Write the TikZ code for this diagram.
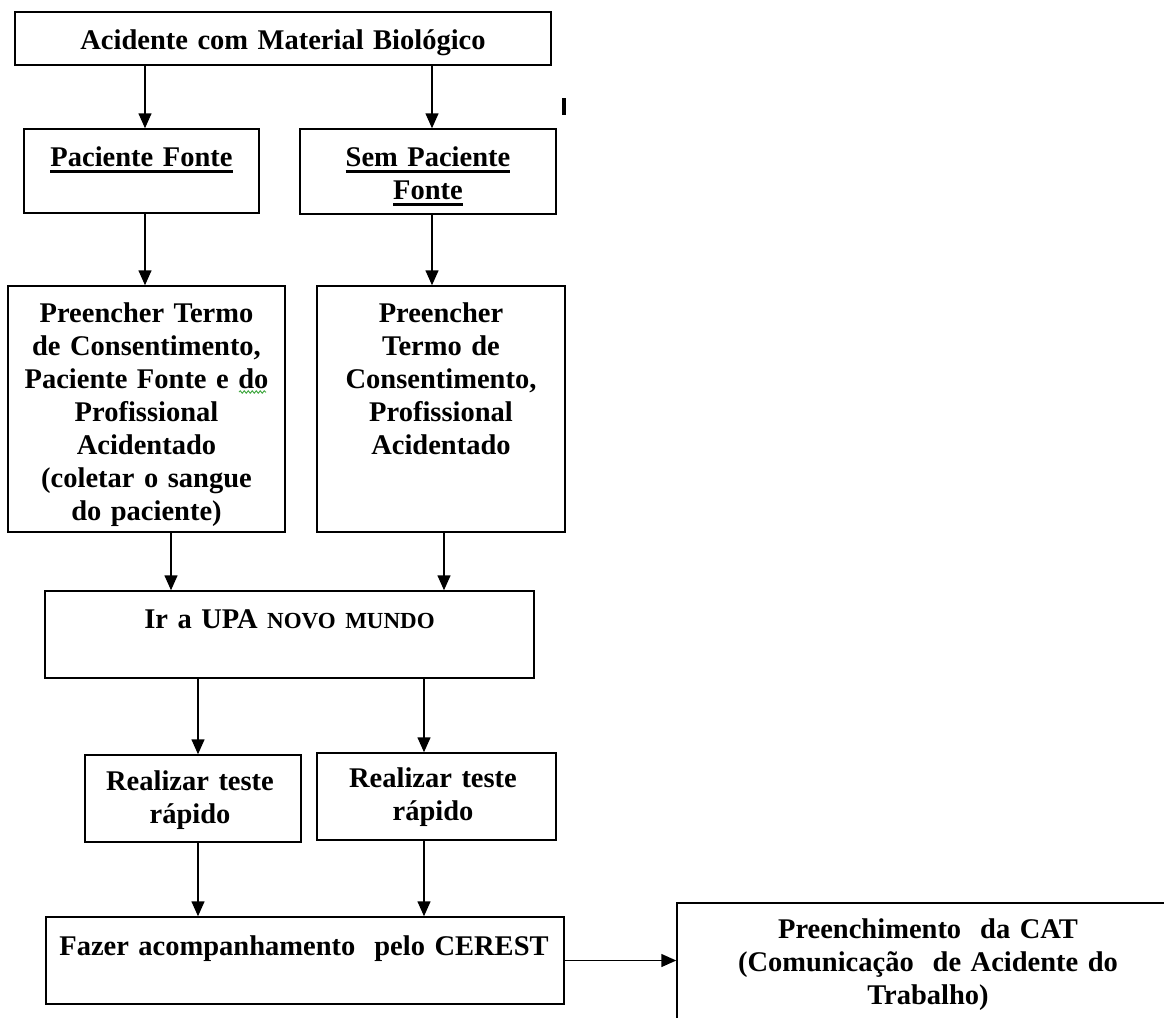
\documentclass[tikz,border=0pt]{standalone}
\usepackage{fontspec}
\setmainfont{Liberation Serif}
\usetikzlibrary{arrows.meta,decorations.pathmorphing}
\definecolor{wordgreen}{RGB}{70,170,70}
\newsavebox\ulbox
\newcommand\myul[1]{\leavevmode\sbox\ulbox{#1}\rlap{\rule[-7pt]{\wd\ulbox}{3pt}}\usebox\ulbox}
\begin{document}
\begin{tikzpicture}[x=1pt,y=-1pt,
  box/.style={draw=black,line width=1.5pt,inner sep=0pt},
  txt/.style={inner sep=0pt,anchor=base,align=center,text width=520pt,
    font=\fontsize{28.5}{33}\selectfont\bfseries},
  arr/.style={line width=1.5pt,-{Triangle[width=13pt,length=15pt]}}]
\clip (0,0) rectangle (1164,1017);
\fill[white] (0,0) rectangle (1164,1017);

% boxes
\node[box,minimum width=536pt,minimum height=53pt] (top) at (283,38.5) {};
\node[box,minimum width=235pt,minimum height=84pt] (pac) at (141.5,171) {};
\node[box,minimum width=256pt,minimum height=85pt] (sem) at (428,171.5) {};
\node[box,minimum width=277pt,minimum height=246pt] (lbig) at (146.5,409) {};
\node[box,minimum width=248pt,minimum height=246pt] (rbig) at (441,409) {};
\node[box,minimum width=489pt,minimum height=87pt] (upa) at (289.5,634.5) {};
\node[box,minimum width=216pt,minimum height=87pt] (rl) at (193,798.5) {};
\node[box,minimum width=239pt,minimum height=87pt] (rr) at (436.5,796.5) {};
\node[box,minimum width=518pt,minimum height=87pt] (fazer) at (305,960.5) {};
\node[box,minimum width=502pt,minimum height=157pt] (cat) at (928,981.5) {};

% texts
\node[txt] (topt) at (283,49) {Acidente com Material Biológico};
\node[txt] (pact) at (141.5,166) {\myul{Paciente Fonte}};
\node[txt] (semt) at (428,166) {\myul{Sem Paciente}\\\myul{Fonte}};
\node[txt] (lbigt) at (146.5,322) {Preencher Termo\\de Consentimento,\\Paciente Fonte e do\\Profissional\\Acidentado\\(coletar o sangue\\do paciente)};
\node[txt] (rbigt) at (441,322) {Preencher\\Termo de\\Consentimento,\\Profissional\\Acidentado};
\node[txt] (upat) at (289.5,628) {Ir a UPA {\fontsize{23}{33}\selectfont NOVO MUNDO}};
\node[txt] (rlt) at (190,790) {Realizar teste\\rápido};
\node[txt] (rrt) at (433,787) {Realizar teste\\rápido};
\node[txt] (fazert) at (304,955) {Fazer acompanhamento\ \ pelo CEREST};
\node[txt] (catt) at (928,938) {Preenchimento\ \ da CAT\\(Comunicação\ \ de Acidente do\\Trabalho)};

% connector columns
\coordinate (c1) at (145,0);
\coordinate (c2) at (432,0);
\coordinate (c3) at (171,0);
\coordinate (c4) at (444,0);
\coordinate (c5) at (198,0);
\coordinate (c6) at (424,0);

\draw[arr] (top.south -| c1) -- (pac.north -| c1);
\draw[arr] (top.south -| c2) -- (sem.north -| c2);
\draw[arr] (pac.south -| c1) -- (lbig.north -| c1);
\draw[arr] (sem.south -| c2) -- (rbig.north -| c2);
\draw[arr] (lbig.south -| c3) -- (upa.north -| c3);
\draw[arr] (rbig.south -| c4) -- (upa.north -| c4);
\draw[arr] (upa.south -| c5) -- (rl.north -| c5);
\draw[arr] (upa.south -| c6) -- (rr.north -| c6);
\draw[arr] (rl.south -| c5) -- (fazer.north -| c5);
\draw[arr] (rr.south -| c6) -- (fazer.north -| c6);
\draw[arr] (fazer.east) -- (fazer.east -| cat.west);

% stray mark and grammar squiggle
\draw[line width=3.5pt] (564,98) -- (564,115);
\draw[wordgreen,line width=1pt,decorate,decoration={snake,amplitude=1.2pt,segment length=4pt}] (239,392) -- (266,392);
\end{tikzpicture}
\end{document}
